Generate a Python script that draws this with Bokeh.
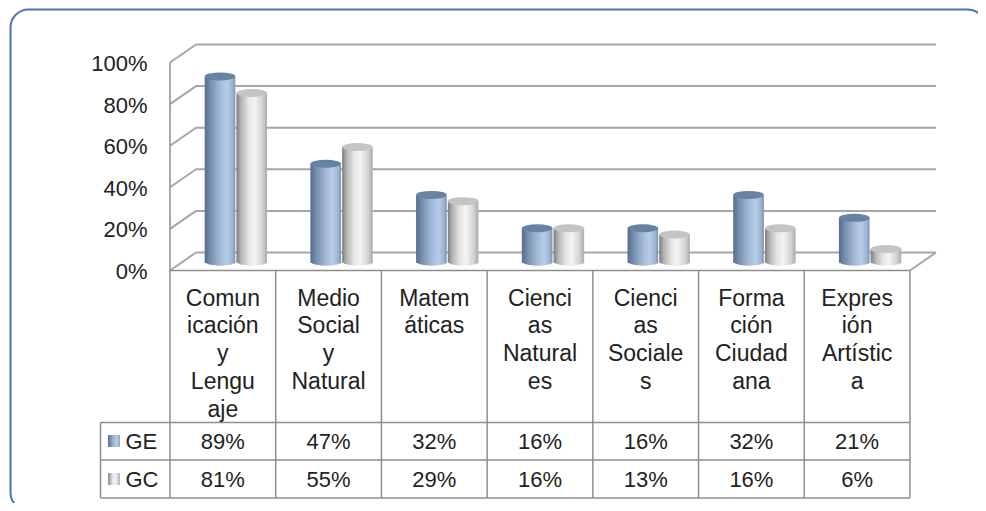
import math
from bokeh.plotting import figure
from bokeh.models import BoxAnnotation, Range1d
from bokeh.embed import file_html
from bokeh.resources import INLINE
from bokeh.core.properties import value

# ---------------- data ----------------
categories = [
    "Comun\nicación\ny\nLengu\naje",
    "Medio\nSocial\ny\nNatural",
    "Matem\náticas",
    "Cienci\nas\nNatural\nes",
    "Cienci\nas\nSociale\ns",
    "Forma\nción\nCiudad\nana",
    "Expres\nión\nArtístic\na",
]
series_names = ["GE", "GC"]
ge_values = [89, 47, 32, 16, 16, 32, 21]
gc_values = [81, 55, 29, 16, 13, 16, 6]
y_ticks = [0, 20, 40, 60, 80, 100]
y_tick_labels = ["0%", "20%", "40%", "60%", "80%", "100%"]

# ---------------- layout (screen positions) ----------------
W, H = 978, 503
PX_PER_CAT = 105.71          # pixels per category column
PX_PER_PCT = 2.08            # pixels per percent
X_FRONT0 = 169.5             # screen x of the front-left edge
Y_FRONT0 = 270.0             # screen y of 0% on the front plane


def sx(px):
    return (px - X_FRONT0) / PX_PER_CAT


def sy(py):
    return (Y_FRONT0 - py) / PX_PER_PCT


DX = 26 / PX_PER_CAT         # depth offset (x)
DY = 18 / PX_PER_PCT         # depth offset (y)
NCAT = len(categories)

p = figure(width=W, height=H, output_backend="svg", toolbar_location=None,
           x_range=Range1d(sx(0), sx(W)), y_range=Range1d(sy(H), sy(0)),
           x_axis_location=None, y_axis_location=None, min_border=0)
p.grid.visible = False
p.outline_line_color = None
p.background_fill_color = "white"
p.border_fill_color = "white"

FONT = value("Liberation Sans")
TXT = "#222222"
GRID = "#a6a6a6"
TABLE = "#8e8e8e"

# rounded frame
p.add_layout(BoxAnnotation(left=sx(10), right=sx(985), top=sy(9), bottom=sy(510),
                           fill_color=None, fill_alpha=0, line_color="#4a76aa",
                           line_alpha=1.0, line_width=2, border_radius=18))

# back wall gridlines
p.multi_line(xs=[[DX, NCAT + DX] for _ in y_ticks], ys=[[v + DY, v + DY] for v in y_ticks],
             line_color=GRID, line_width=2)
# side wall lines
p.multi_line(xs=[[0, DX] for _ in y_ticks], ys=[[v, v + DY] for v in y_ticks],
             line_color=GRID, line_width=2)
# floor right edge
p.line([NCAT, NCAT + DX], [0, DY], line_color=GRID, line_width=2)
# front-left vertical edge (side wall + table)
p.line([0, 0], [sy(497.5), y_ticks[-1]], line_color=TABLE, line_width=1.5)


# ---------------- cylinders ----------------
def hex2rgb(h):
    h = h.lstrip("#")
    return [int(h[i:i + 2], 16) for i in (0, 2, 4)]


def interp(stops, t):
    for (p0, c0), (p1, c1) in zip(stops, stops[1:]):
        if p0 <= t <= p1:
            f = (t - p0) / (p1 - p0) if p1 > p0 else 0
            a, b = hex2rgb(c0), hex2rgb(c1)
            return "#%02x%02x%02x" % tuple(round(a[k] + (b[k] - a[k]) * f) for k in range(3))
    return stops[-1][1]


GE_STOPS = [(0.0, "#566d8c"), (0.2, "#7790b1"), (0.5, "#a2b9d6"), (0.72, "#b7cce6"),
            (0.9, "#9fb6d3"), (1.0, "#7890b0")]
GC_STOPS = [(0.0, "#7c7c7c"), (0.15, "#b4b4b4"), (0.4, "#e6e6e6"), (0.6, "#f3f3f3"),
            (0.85, "#d2d2d2"), (1.0, "#a9a9a9")]
TOP_COLORS = ["#6683a4", "#c4c4c4"]
SERIES_STOPS = [GE_STOPS, GC_STOPS]
OFFSETS = [0.35, 0.65]
CW = 0.29                     # cylinder width (category units)
EH = 8 / PX_PER_PCT           # ellipse height (percent units)
BASE = DY / 2
NSTRIP = 16
OVERLAP = 1.2 / PX_PER_CAT    # strips overlap to avoid seams

for s, vals in enumerate([ge_values, gc_values]):
    L, R, B, T, C = [], [], [], [], []
    ex, ey = [], []
    for i, v in enumerate(vals):
        cx = i + OFFSETS[s] + DX / 2
        x0 = cx - CW / 2
        for k in range(NSTRIP):
            u0, u1 = k / NSTRIP, (k + 1) / NSTRIP
            uc = (u0 + u1) - 1
            L.append(x0 + u0 * CW)
            R.append(x0 + u1 * CW + (OVERLAP if k < NSTRIP - 1 else 0))
            B.append(BASE - EH / 2 * math.sqrt(max(0.0, 1 - uc * uc)))
            T.append(BASE + v)
            C.append(interp(SERIES_STOPS[s], (u0 + u1) / 2))
        ex.append(cx)
        ey.append(BASE + v)
    p.quad(left=L, right=R, bottom=B, top=T, fill_color=C, line_color=None)
    p.ellipse(x=ex, y=ey, width=CW, height=EH, fill_color=TOP_COLORS[s], line_color=None)

# ---------------- data table ----------------
row_y = [sy(440.5), sy(478.5)]
p.line([0, NCAT], [0, 0], line_color=TABLE, line_width=1.5)
p.multi_line(xs=[[sx(100), NCAT] for _ in range(3)],
             ys=[[sy(422), sy(422)], [sy(459.5), sy(459.5)], [sy(497.5), sy(497.5)]],
             line_color=TABLE, line_width=1.5)
p.multi_line(xs=[[i, i] for i in range(1, NCAT + 1)],
             ys=[[0, sy(497.5)] for _ in range(NCAT)], line_color=TABLE, line_width=1.5)
p.line([sx(100), sx(100)], [sy(422), sy(497.5)], line_color=TABLE, line_width=1.5)

p.text(x=[i + 0.5 for i in range(NCAT)], y=[sy(284)] * NCAT, text=categories,
       text_align="center", text_baseline="top", text_font=FONT, text_font_size="23px",
       text_line_height=1.07, text_color=TXT)

for r, vals in enumerate([ge_values, gc_values]):
    p.text(x=[i + 0.5 for i in range(NCAT)], y=[row_y[r]] * NCAT,
           text=[f"{v}%" for v in vals], text_align="center", text_baseline="middle",
           text_font=FONT, text_font_size="22px", text_color=TXT)
    # legend key
    kl, kr = sx(107.5), sx(119.5)
    kb, kt = row_y[r] - 6 / PX_PER_PCT, row_y[r] + 6 / PX_PER_PCT
    nk = 6
    p.quad(left=[kl + (kr - kl) * k / nk for k in range(nk)],
           right=[kl + (kr - kl) * (k + 1) / nk + (0.008 if k < nk - 1 else 0) for k in range(nk)],
           bottom=[kb] * nk, top=[kt] * nk,
           fill_color=[interp(SERIES_STOPS[r], (k + 0.5) / nk) for k in range(nk)],
           line_color=None)

p.text(x=[sx(125)] * 2, y=row_y, text=series_names, text_align="left",
       text_baseline="middle", text_font=FONT, text_font_size="22px", text_color=TXT)

# y tick labels
p.text(x=[sx(147)] * len(y_ticks), y=[v - 1 / PX_PER_PCT for v in y_ticks], text=y_tick_labels,
       text_align="right", text_baseline="middle", text_font=FONT, text_font_size="22px",
       text_color=TXT)

open("out.html", "w").write(file_html(p, INLINE))
